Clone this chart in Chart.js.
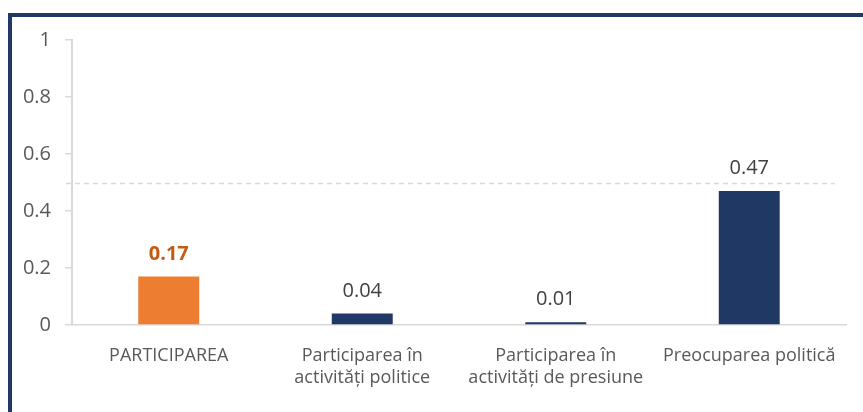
<!DOCTYPE html>
<html>
<head>
<meta charset="utf-8">
<script src="https://cdn.jsdelivr.net/npm/chart.js@4"></script>
<style>
  html, body { margin: 0; padding: 0; background: #fff; }
  #wrap { position: relative; width: 863px; height: 412px; overflow: hidden; }
  #chart { position: absolute; left: 0; top: 0; }
  #frame {
    position: absolute; left: 8px; top: 13px; width: 860px; height: 410px;
    border-top: 4px solid #1F3864; border-left: 4px solid #1F3864;
    pointer-events: none;
  }
</style>
</head>
<body>
<div id="wrap">
  <canvas id="chart" width="863" height="412"></canvas>
  <div id="frame"></div>
</div>
<script>
// Categories and values
const categories = [
  ['PARTICIPAREA'],
  ['Participarea în', 'activități politice'],
  ['Participarea în', 'activități de presiune'],
  ['Preocuparea politică']
];
const values = [0.17, 0.04, 0.01, 0.47];
const barColors = ['#ED7D31', '#203864', '#203864', '#203864'];
const labelColors = ['#C55A11', '#404040', '#404040', '#404040'];
const labelBold = [true, false, false, false];
const referenceValue = 0.5;
const yTicks = [0, 0.2, 0.4, 0.6, 0.8, 1];

const FONT = "'Open Sans', sans-serif";

// Ligne pointillée de référence
const refLine = {
  id: 'refLine',
  beforeDatasetsDraw(chart) {
    const { ctx, chartArea, scales } = chart;
    const y = Math.round(scales.y.getPixelForValue(referenceValue)) + 0.5;
    ctx.save();
    ctx.strokeStyle = '#d9d9d9';
    ctx.lineWidth = 1.5;
    ctx.setLineDash([5, 4]);
    ctx.beginPath();
    ctx.moveTo(chartArea.left - 6, y);
    ctx.lineTo(chartArea.right - 11, y);
    ctx.stroke();
    ctx.restore();
  }
};

// Etiquettes des valeurs au-dessus des barres
const valueLabels = {
  id: 'valueLabels',
  afterDatasetsDraw(chart) {
    const { ctx } = chart;
    const meta = chart.getDatasetMeta(0);
    ctx.save();
    ctx.textAlign = 'center';
    ctx.textBaseline = 'alphabetic';
    meta.data.forEach((bar, i) => {
      ctx.font = (labelBold[i] ? 'bold ' : '') + '20px ' + FONT;
      ctx.fillStyle = labelColors[i];
      ctx.fillText(values[i].toFixed(2), bar.x, bar.y - 17);
    });
    ctx.restore();
  }
};

new Chart(document.getElementById('chart'), {
  type: 'bar',
  data: {
    labels: categories,
    datasets: [{
      data: values,
      backgroundColor: barColors,
      barPercentage: 0.315,
      categoryPercentage: 1
    }]
  },
  options: {
    responsive: false,
    animation: false,
    layout: { padding: { left: 12, right: 17, top: 40, bottom: 6 } },
    plugins: {
      legend: { display: false },
      tooltip: { enabled: false }
    },
    scales: {
      x: {
        grid: { display: false },
        border: { color: '#d9d9d9', width: 1.5 },
        ticks: {
          color: '#595959',
          font: { family: FONT, size: 18 },
          padding: 12,
          maxRotation: 0,
          autoSkip: false
        },
        afterFit(scale) { scale.height = 81; }
      },
      y: {
        min: 0,
        max: 1,
        afterBuildTicks(scale) { scale.ticks = yTicks.map(v => ({ value: v })); },
        grid: {
          drawOnChartArea: false,
          drawTicks: true,
          tickLength: 7,
          color: '#d9d9d9',
          lineWidth: 1.5
        },
        border: { color: '#d9d9d9', width: 2 },
        ticks: {
          color: '#595959',
          font: { family: FONT, size: 20 },
          padding: 14,
          callback: v => String(v)
        },
        afterFit(scale) { scale.width = 60; }
      }
    }
  },
  plugins: [refLine, valueLabels]
});
</script>
</body>
</html>
